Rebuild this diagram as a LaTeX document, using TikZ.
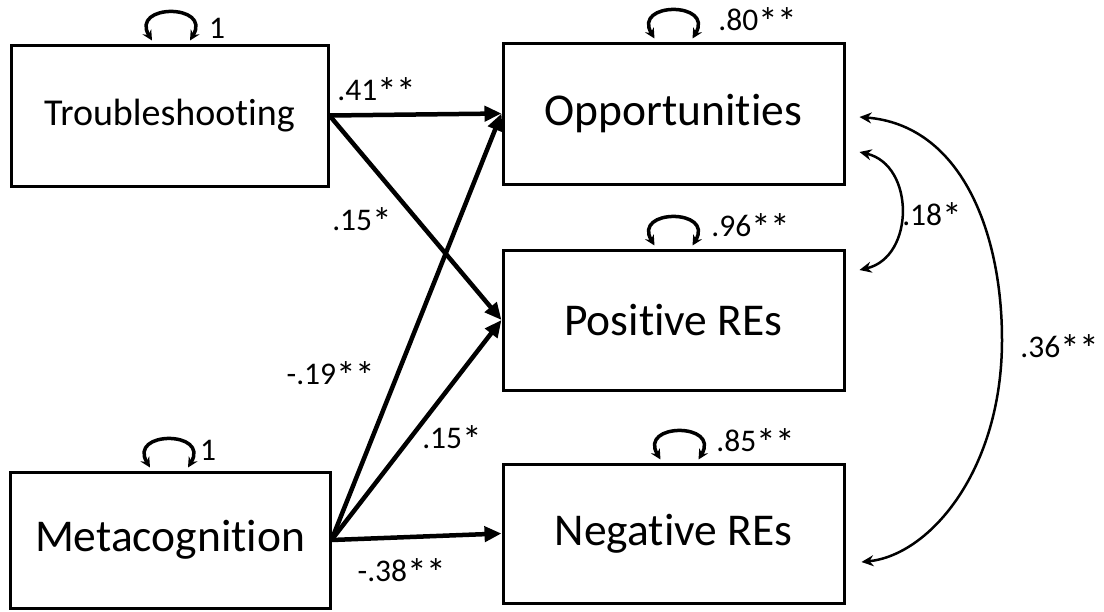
\documentclass[tikz,border=0pt]{standalone}
\usepackage{fontspec}
\setmainfont{Carlito}[Ligatures=NoCommon]
\usetikzlibrary{arrows.meta,calc}
\newcommand{\myast}{\raisebox{-0.17em}{\scalebox{1.25}{*}}}
\begin{document}
\begin{tikzpicture}[x=1pt,y=-1pt,
  varbox/.style={draw,line width=3pt,rectangle,inner sep=0pt,font=\fontsize{45.5}{50}\selectfont},
  path/.style={line width=4.5pt,-{Triangle[length=17pt,width=15pt]}},
  cov/.style={line width=2.5pt,{Stealth[length=12pt,width=11pt]}-{Stealth[length=12pt,width=11pt]}},
  selfl/.style={line width=3.5pt,{Stealth[length=10pt,width=10pt]}-{Stealth[length=10pt,width=10pt]}},
  lab/.style={inner sep=0pt,font=\fontsize{31.5}{36}\selectfont}]
\useasboundingbox (0,0) rectangle (1104,611);
% boxes
\node[varbox,minimum width=317pt,minimum height=141pt,font=\fontsize{38}{42}\selectfont] (T) at (169.5,115.5) {Troubleshooting};
\node[varbox,minimum width=320pt,minimum height=136pt] (M) at (170,540) {Metacognition};
\node[varbox,minimum width=341pt,minimum height=141pt] (O) at (673.5,113.5) {Opportunities};
\node[varbox,minimum width=341pt,minimum height=140pt] (P) at (673.5,320) {Positive REs};
\node[varbox,minimum width=341pt,minimum height=139pt] (N) at (673.5,533.5) {Negative REs};
% paths
\draw[path] (T.east) -- (O.west);
\draw[path] (T.east) -- (P.west);
\draw[path] (M.east) -- (O.west);
\draw[path] (M.east) -- (P.west);
\draw[path] (M.east) -- (N.west);
% self loops (residual variances)
\newcommand{\myloop}[2]{%
  \draw[selfl] ($(#1.north)+(#2-19,-3)$) .. controls +(-22,-37) and +(22,-37) .. ($(#1.north)+(#2+19,-3)$);}
\myloop{T}{1.5}
\myloop{M}{-1}
\myloop{O}{0}
\myloop{P}{0}
\myloop{N}{6}
% covariances
\draw[cov] ($(O.east)+(14,38.5)$) .. controls (915,165) and (915,257) .. ($(P.east)+(14,-50)$);
\draw[cov] ($(O.east)+(14,3.5)$) .. controls (960,125) and (1002,230) .. (1002,340)
  .. controls (1002,470) and (930,555) .. ($(N.east)+(16,28.5)$);
% labels
\node[lab] (lT) at (217,28) {1};
\node[lab] (lM) at (208,450) {1};
\node[lab] (lO) at (758,22) {.80\myast\myast};
\node[lab] (lP) at (751,228) {.96\myast\myast};
\node[lab] (lN) at (756,443) {.85\myast\myast};
\node[lab] (l41) at (377,92) {.41\myast\myast};
\node[lab] (l15a) at (362,222) {.15\myast};
\node[lab] (l19) at (331,376) {-.19\myast\myast};
\node[lab] (l15b) at (452,440) {.15\myast};
\node[lab] (l38) at (402,573) {-.38\myast\myast};
\node[lab] (l18) at (932,217) {.18\myast};
\node[lab] (l36) at (1060,349) {.36\myast\myast};
\end{tikzpicture}
\end{document}
